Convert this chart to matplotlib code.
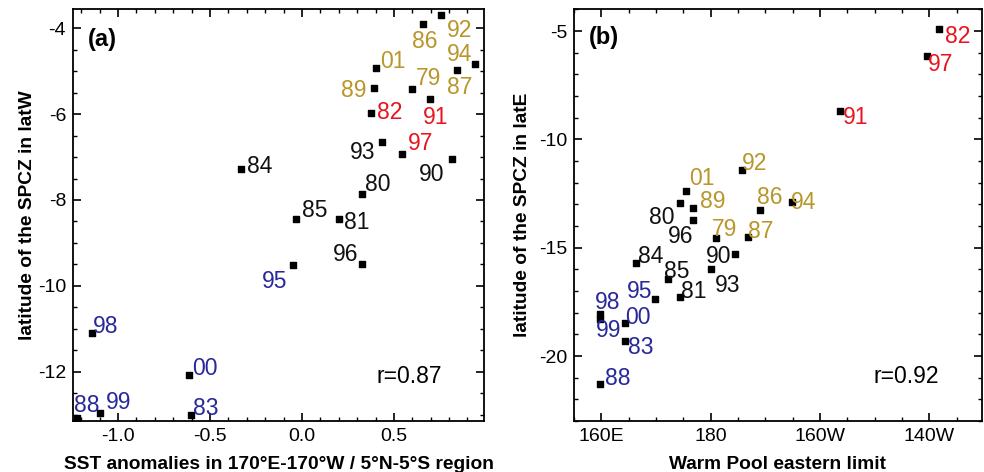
import numpy as np
import matplotlib
matplotlib.use("Agg")
import matplotlib.pyplot as plt
from matplotlib.ticker import MultipleLocator

plt.rcParams['font.family'] = ['Liberation Sans', 'DejaVu Sans']
plt.rcParams['axes.unicode_minus'] = False

# years (labels) and group of each year
years = ['79', '80', '81', '82', '83', '84', '85', '86', '87', '88', '89', '90',
         '91', '92', '93', '94', '95', '96', '97', '98', '99', '00', '01']
groups = ['gold', 'black', 'black', 'red', 'blue', 'black', 'black', 'gold', 'gold', 'blue', 'gold', 'black',
          'red', 'gold', 'black', 'gold', 'blue', 'black', 'red', 'blue', 'blue', 'blue', 'gold']

# panel (a): SST anomaly vs latW
sst = [0.596, 0.324, 0.201, 0.375, -0.603, -0.333, -0.033, 0.659, 0.841, -1.224, 0.393, 0.814,
       0.696, 0.754, 0.433, 0.94, -0.047, 0.328, 0.545, -1.143, -1.098, -0.612, 0.40]
latW = [-5.41, -7.85, -8.44, -5.97, -13.0, -7.27, -8.45, -3.89, -4.98, -13.07, -5.38, -7.05,
        -5.65, -3.70, -6.66, -4.82, -9.51, -9.50, -6.92, -11.10, -12.97, -12.07, -4.92]

# panel (b): warm pool eastern limit (deg E) vs latE
wp_lim = [181.0, 174.4, 174.3, 221.8, 164.3, 166.4, 172.2, 189.1, 186.8, 159.7, 176.8, 184.5,
          203.7, 185.7, 180.0, 194.8, 169.9, 176.8, 219.6, 159.7, 159.7, 164.3, 175.5]
latE = [-14.57, -12.92, -17.26, -4.89, -19.31, -15.72, -16.46, -13.26, -14.49, -21.30, -13.18, -15.27,
        -8.69, -11.41, -15.96, -12.87, -17.38, -13.72, -6.15, -18.08, -18.31, -18.49, -12.38]

wp_ticks = [160, 180, 200, 220]
wp_ticklabels = ['160E', '180', '160W', '140W']

colors = {'gold': '#b8962a', 'red': '#e8141e', 'blue': '#28289a', 'black': '#111111'}

# label offsets in pixels (dx right, dy down)
off_a = {'79': (17, -13), '80': (16, -12), '81': (18, 1), '82': (19, -3), '83': (15, -9),
         '84': (19, -5), '85': (19, -11), '86': (2, 15), '87': (3, 15), '88': (10, -15),
         '89': (-20, 0), '90': (-20, 13), '91': (6, 16), '92': (19, 13), '93': (-19, 8),
         '94': (-15, -12), '95': (-19, 14), '96': (-17, -12), '97': (18, -13), '98': (14, -9),
         '99': (19, -13), '00': (15, -9), '01': (17, -9)}
off_b = {'79': (8, -11), '80': (-18, 12), '81': (14, -8), '82': (18, 5), '83': (16, 4),
         '84': (14, -9), '85': (9, -10), '86': (9, -15), '87': (13, -8), '88': (18, -8),
         '89': (20, -9), '90': (-17, 0), '91': (15, 4), '92': (13, -9), '93': (17, 14),
         '94': (12, -2), '95': (-16, -10), '96': (-13, 14), '97': (13, 6), '98': (8, -14),
         '99': (9, 9), '00': (13, -8), '01': (16, -15)}

fig = plt.figure(figsize=(9.84, 4.72), dpi=100)
ax1 = fig.add_axes([0.0742, 0.108, 0.4177, 0.872])
ax2 = fig.add_axes([0.5833, 0.108, 0.4146, 0.872])


def draw_panel(ax, xs, ys, offs):
    ax.scatter(xs, ys, marker='s', s=20, c='black', zorder=3)
    for yr, g, x, y in zip(years, groups, xs, ys):
        dx, dy = offs[yr]
        ax.annotate(yr, (x, y), xytext=(dx, -dy), textcoords='offset pixels',
                    ha='center', va='center_baseline', fontsize=16.5, color=colors[g])
    ax.tick_params(which='both', direction='in', top=True, right=True, labelsize=14, pad=5)
    ax.tick_params(which='major', length=6, width=1.2)
    ax.tick_params(which='minor', length=3, width=1.0)
    for s in ax.spines.values():
        s.set_linewidth(1.3)


draw_panel(ax1, sst, latW, off_a)
ax1.set_xlim(-1.245, 0.99)
ax1.set_ylim(-13.15, -3.56)
ax1.xaxis.set_major_locator(MultipleLocator(0.5))
ax1.xaxis.set_minor_locator(MultipleLocator(0.1))
ax1.yaxis.set_major_locator(MultipleLocator(2))
ax1.yaxis.set_minor_locator(MultipleLocator(0.5))
ax1.xaxis.set_major_formatter(matplotlib.ticker.FormatStrFormatter('%.1f'))
ax1.set_xlabel('SST anomalies in 170°E-170°W / 5°N-5°S region', fontsize=13.8,
               fontweight='bold', va='center')
ax1.set_ylabel('latitude of the SPCZ in latW', fontsize=13.8, fontweight='bold', va='center')
ax1.xaxis.set_label_coords(0.5, -0.106)
ax1.yaxis.set_label_coords(-0.110, 0.5)
ax1.text(0.072, 0.928, '(a)', transform=ax1.transAxes, ha='center', va='center',
         fontsize=17, fontweight='bold')
ax1.text(0.818, 0.108, 'r=0.87', transform=ax1.transAxes, ha='center', va='center', fontsize=16.5)

draw_panel(ax2, wp_lim, latE, off_b)
ax2.set_xlim(155, 229.6)
ax2.set_ylim(-23, -4)
ax2.set_xticks(wp_ticks)
ax2.set_xticklabels(wp_ticklabels)
ax2.xaxis.set_minor_locator(MultipleLocator(5))
ax2.yaxis.set_major_locator(MultipleLocator(5))
ax2.yaxis.set_minor_locator(MultipleLocator(1))
ax2.set_xlabel('Warm Pool eastern limit', fontsize=13.8, fontweight='bold', va='center')
ax2.set_ylabel('latitude of the SPCZ in latE', fontsize=13.8, fontweight='bold', va='center')
ax2.xaxis.set_label_coords(0.5, -0.106)
ax2.yaxis.set_label_coords(-0.127, 0.5)
ax2.text(0.074, 0.933, '(b)', transform=ax2.transAxes, ha='center', va='center',
         fontsize=17, fontweight='bold')
ax2.text(0.815, 0.108, 'r=0.92', transform=ax2.transAxes, ha='center', va='center', fontsize=16.5)

fig.savefig('out.png', dpi=100)
